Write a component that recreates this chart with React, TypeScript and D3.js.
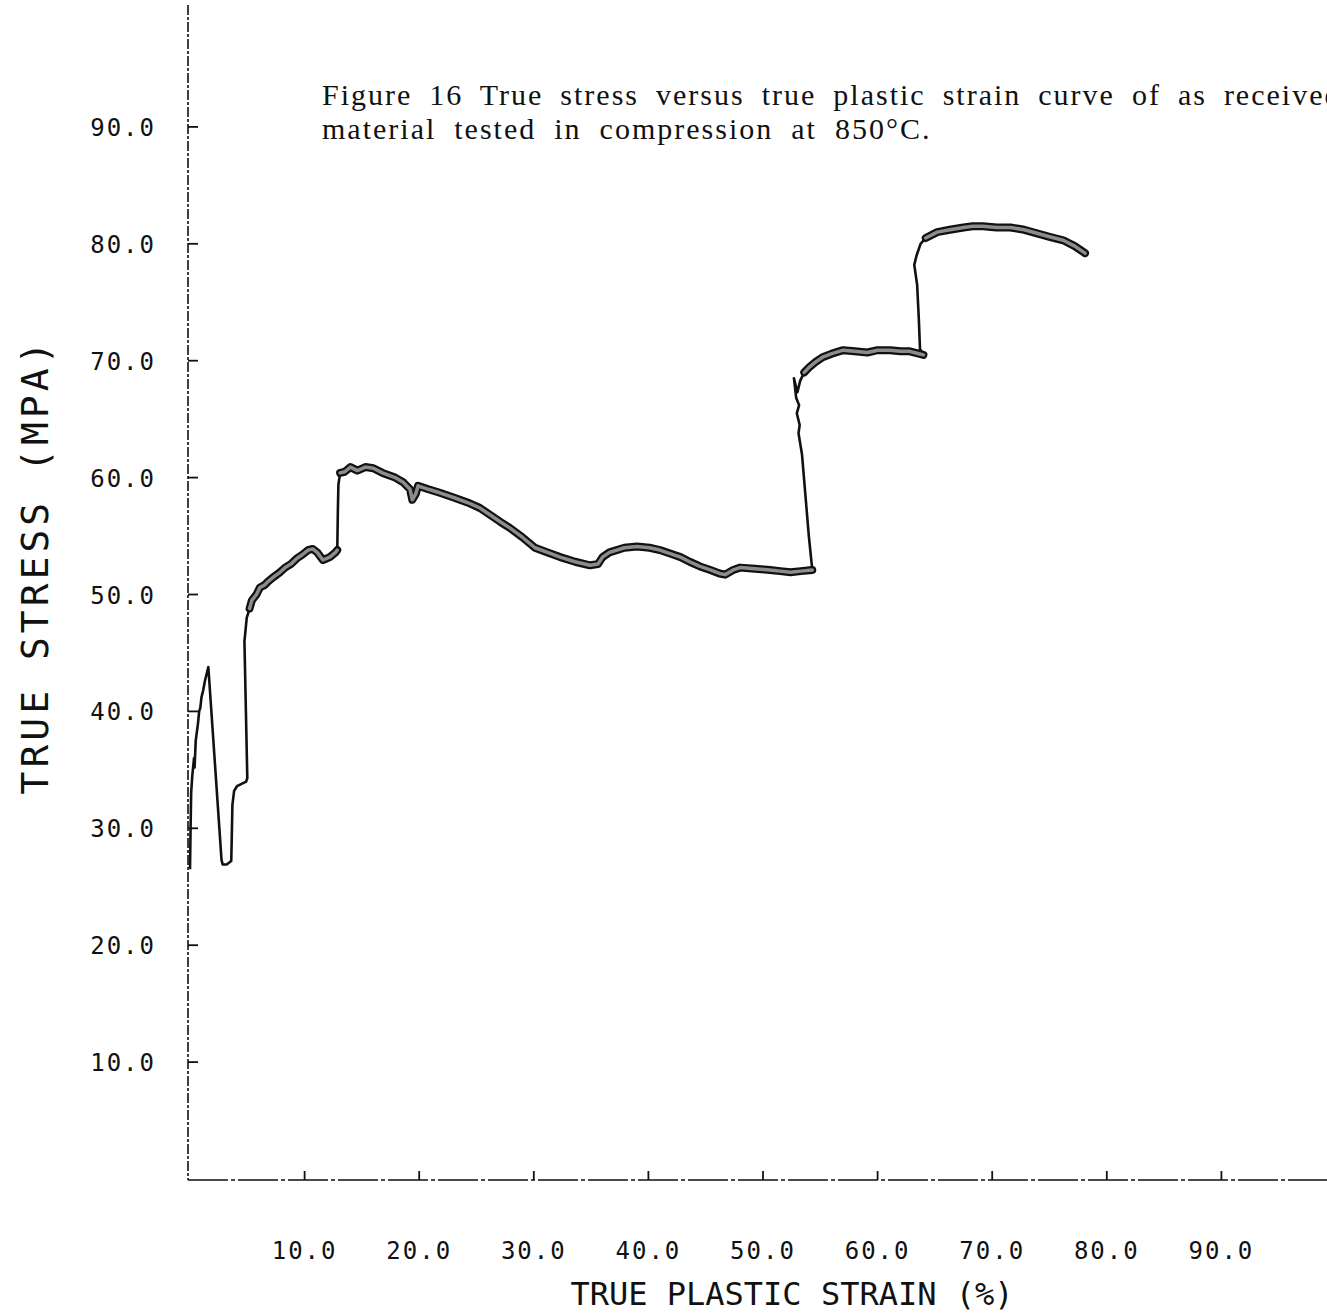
import React from "react";
import * as d3 from "d3";

const W = 1327;
const H = 1315;

// True plastic strain (%) and true stress (MPa)
const strain = [
  0.0, 0.05, 0.1, 0.2, 0.35, 0.4, 0.5, 0.7, 0.8, 0.9, 1.0, 1.15, 1.3, 1.45, 1.6,
  2.75, 2.85, 3.2, 3.6, 3.65, 3.7, 3.85, 4.1, 4.5, 4.9, 5.0,
  4.75, 4.95, 5.2, 5.4, 5.8, 6.1, 6.5, 6.8, 7.3, 7.85, 8.3, 8.8, 9.34, 9.8, 10.3, 10.7, 11.1, 11.6, 12.2, 12.7, 12.85,
  12.9, 12.95, 13.1, 13.5, 14.0, 14.6, 15.3, 16.0, 16.8, 17.9, 18.6, 19.2, 19.4, 19.7, 19.9, 20.8, 21.8, 23.0, 24.4,
  25.3, 26.2, 27.1, 27.9, 29.0, 30.1, 31.2, 32.3, 33.6, 34.9, 35.6, 36.0, 36.6, 37.9, 39.0, 40.1, 41.0, 41.9, 42.8,
  43.6, 44.5, 45.4, 46.2, 46.7, 47.4, 48.0, 49.3, 50.6, 51.5, 52.4, 53.3, 54.3,
  54.0, 53.7, 53.4, 53.1, 53.2, 52.95, 53.15, 52.9, 52.7, 53.0, 53.25, 53.6, 54.1, 54.6, 55.2, 56.0, 57.0, 58.0,
  59.1, 60.0, 61.1, 62.0, 62.8, 63.6, 64.0,
  63.7, 63.6, 63.45, 63.2, 63.4, 63.75, 64.2, 65.2, 66.3, 67.5, 68.3, 69.2, 70.4, 71.6, 72.8, 73.9, 75.0, 76.2,
  77.2, 78.1,
];
const stress = [
  26.5, 30.0, 33.0, 34.5, 36.0, 35.2, 37.5, 39.0, 40.0, 40.3, 41.2, 41.8, 42.6, 43.2, 43.8,
  27.3, 26.9, 26.9, 27.2, 29.5, 32.0, 33.2, 33.6, 33.8, 34.0, 34.3,
  46.0, 48.0, 48.8, 49.5, 50.0, 50.6, 50.8, 51.1, 51.5, 51.9, 52.3, 52.6, 53.1, 53.4, 53.8, 53.9, 53.6, 52.95, 53.2, 53.6, 53.8,
  57.0, 59.4, 60.4, 60.5, 60.9, 60.6, 60.9, 60.8, 60.4, 60.0, 59.6, 59.0, 58.1, 58.6, 59.3, 59.0, 58.7, 58.3, 57.8,
  57.4, 56.8, 56.2, 55.7, 54.9, 54.0, 53.6, 53.2, 52.8, 52.5, 52.6, 53.2, 53.6, 54.0, 54.1, 54.0, 53.8, 53.5, 53.2,
  52.8, 52.4, 52.1, 51.8, 51.7, 52.1, 52.3, 52.2, 52.1, 52.0, 51.9, 52.0, 52.1,
  55.0, 58.5, 62.0, 63.8, 64.5, 65.5, 66.2, 66.8, 68.5, 67.3, 68.3, 69.0, 69.5, 69.9, 70.3, 70.6, 70.9, 70.8,
  70.7, 70.9, 70.9, 70.8, 70.8, 70.6, 70.5,
  71.0, 73.5, 76.5, 78.2, 79.0, 80.0, 80.5, 81.0, 81.2, 81.4, 81.5, 81.5, 81.4, 81.4, 81.2, 80.9, 80.6, 80.3,
  79.8, 79.2,
];

// Plateau stretches drawn as a thick band (first / last strain of each)
const bandFrom = [5.2, 13.1, 53.6, 64.2];
const bandTo = [12.85, 54.3, 64.0, 78.1];

const xTicks = [10, 20, 30, 40, 50, 60, 70, 80, 90];
const yTicks = [10, 20, 30, 40, 50, 60, 70, 80, 90];

const captionLine1 = "Figure 16 True stress versus true plastic strain curve of as received";
const captionLine2 = "material tested in compression at 850°C.";
const xTitle = "TRUE PLASTIC STRAIN (%)";
const yTitle = "TRUE STRESS (MPA)";

export default function App() {
  const x = d3.scaleLinear().domain([0, 100]).range([190, 1336]);
  const y = d3.scaleLinear().domain([0, 100]).range([1179, 10]);

  const pts: [number, number][] = strain.map((s, i) => [s, stress[i]]);
  const line = d3
    .line<[number, number]>()
    .x((d) => x(d[0]))
    .y((d) => y(d[1]));

  const bands = bandFrom.map((f, k) => {
    const a = strain.indexOf(f);
    const b = strain.indexOf(bandTo[k]);
    return pts.slice(a, b + 1);
  });

  const mono = "'DejaVu Sans Mono', monospace";
  const serif = "'Liberation Serif', 'Times New Roman', serif";

  return (
    <svg
      width={W}
      height={H}
      style={{ position: "absolute", left: 0, top: 0, background: "#fff" }}
    >
      <rect x={0} y={0} width={W} height={H} fill="#fff" />
      {/* caption */}
      <text x={322} y={105} fontFamily={serif} fontSize={30} letterSpacing={2} wordSpacing={7.5} fill="#111">
        {captionLine1}
      </text>
      <text x={322} y={139} fontFamily={serif} fontSize={30} letterSpacing={2} wordSpacing={8.5} fill="#111">
        {captionLine2}
      </text>

      {/* axes */}
      <line x1={188} y1={5} x2={188} y2={1180} stroke="#111" strokeWidth={1.6} strokeDasharray="10 2 3 2" />
      <line x1={188} y1={1180} x2={W} y2={1180} stroke="#111" strokeWidth={1.6} strokeDasharray="40 3 4 3" />

      {yTicks.map((t) => (
        <g key={"y" + t}>
          <line x1={188} x2={198} y1={y(t)} y2={y(t)} stroke="#111" strokeWidth={1.8} />
          <text
            x={156}
            y={y(t) + 9}
            textAnchor="end"
            fontFamily={mono}
            fontSize={24}
            letterSpacing={2}
            fill="#111"
          >
            {t.toFixed(1)}
          </text>
        </g>
      ))}
      {xTicks.map((t) => (
        <g key={"x" + t}>
          <line x1={x(t)} x2={x(t)} y1={1180} y2={1171} stroke="#111" strokeWidth={1.8} />
          <text
            x={x(t)}
            y={1259}
            textAnchor="middle"
            fontFamily={mono}
            fontSize={24}
            letterSpacing={2}
            fill="#111"
          >
            {t.toFixed(1)}
          </text>
        </g>
      ))}

      <text x={792} y={1305} textAnchor="middle" fontFamily={mono} fontSize={32} fill="#111">
        {xTitle}
      </text>
      <text
        transform="translate(48,566) rotate(-90)"
        textAnchor="middle"
        fontFamily={mono}
        fontSize={38}
        letterSpacing={4}
        fill="#111"
      >
        {yTitle}
      </text>

      {/* curve */}
      <path d={line(pts) || ""} fill="none" stroke="#111" strokeWidth={2.6} strokeLinejoin="round" />
      {bands.map((b, i) => (
        <g key={"b" + i}>
          <path d={line(b) || ""} fill="none" stroke="#111" strokeWidth={8} strokeLinejoin="round" strokeLinecap="round" />
          <path d={line(b) || ""} fill="none" stroke="#8c8c8c" strokeWidth={3.5} strokeLinejoin="round" strokeLinecap="round" />
        </g>
      ))}
    </svg>
  );
}
